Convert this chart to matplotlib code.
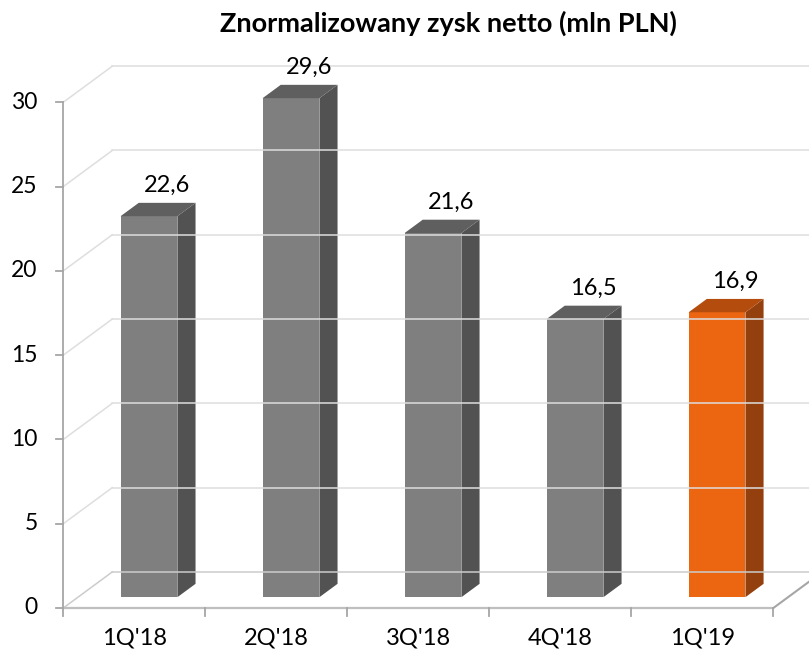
import matplotlib
matplotlib.use("Agg")
import matplotlib.pyplot as plt
from matplotlib.patches import Polygon

# dane
kwartaly = ["1Q'18", "2Q'18", "3Q'18", "4Q'18", "1Q'19"]
zysk = [22.6, 29.6, 21.6, 16.5, 16.9]
etykiety = ["22,6", "29,6", "21,6", "16,5", "16,9"]
podzialka_y = [0, 5, 10, 15, 20, 25, 30]

# kolory slupkow (przod, bok, gora)
kol_przod = ["#7f7f7f"] * 4 + ["#ec6612"]
kol_bok = ["#525252"] * 4 + ["#94400e"]
kol_gora = ["#5f5f5f"] * 4 + ["#b34c0d"]

plt.rcParams["font.family"] = ["Lato", "DejaVu Sans"]

fig = plt.figure(figsize=(8.09, 6.56), dpi=100)
ax = fig.add_axes([63.3 / 809, (656 - 608) / 656, (809 - 63.3) / 809, (608 - 50) / 656])
ax.set_xlim(-0.5, 4.751)
ax.set_ylim(0, 33.1)
ax.axis("off")

DX = 0.345  # przesuniecie glebi w kategoriach
DY = 2.14   # przesuniecie glebi w jednostkach osi y
d0, d1 = 0.3, 0.67  # glebokosc slupka
szer = 0.4

# siatka na tylnej scianie + skosy po lewej
for v in podzialka_y:
    kol = "#dedede" if v > 0 else "#cccccc"
    ax.plot([-0.5, -0.5 + DX], [v, v + DY], color=kol, lw=1.1, clip_on=False)
    ax.plot([-0.5 + DX, 4.751], [v + DY, v + DY], color=kol, lw=1.1, clip_on=False)

# podloga
ax.plot([-0.5, 4.5], [0, 0], color="#bfbfbf", lw=1.6, clip_on=False)
ax.plot([4.5, 4.5 + DX], [0, DY], color="#a6a6a6", lw=1.5, clip_on=False)

# os y
ax.plot([-0.5, -0.5], [0, 30], color="#a6a6a6", lw=1.3, clip_on=False)
for v in podzialka_y:
    ax.plot([-0.55, -0.5], [v, v], color="#a6a6a6", lw=1.3, clip_on=False)
    ax.text(-0.68, v, str(v), ha="right", va="center", fontsize=16.5)

# podzialka osi x
for i in range(len(kwartaly) + 1):
    ax.plot([i - 0.5, i - 0.5], [0, -0.5], color="#a6a6a6", lw=1.3, clip_on=False)
for i, k in enumerate(kwartaly):
    ax.text(i, -1.75, k, ha="center", va="center", fontsize=17)

# slupki 3d
for i, v in enumerate(zysk):
    x0 = i - szer / 2 + d0 * DX
    x1 = i + szer / 2 + d0 * DX
    y0 = d0 * DY
    ddx = (d1 - d0) * DX
    ddy = (d1 - d0) * DY
    ax.add_patch(Polygon([(x0, y0), (x1, y0), (x1, y0 + v), (x0, y0 + v)],
                         closed=True, fc=kol_przod[i], ec="none"))
    ax.add_patch(Polygon([(x1, y0), (x1 + ddx, y0 + ddy), (x1 + ddx, y0 + v + ddy), (x1, y0 + v)],
                         closed=True, fc=kol_bok[i], ec="none"))
    ax.add_patch(Polygon([(x0, y0 + v), (x1, y0 + v), (x1 + ddx, y0 + v + ddy), (x0 + ddx, y0 + v + ddy)],
                         closed=True, fc=kol_gora[i], ec="none"))
    ax.text((x0 + x1) / 2 + ddx, y0 + v + ddy + 0.4, etykiety[i],
            ha="center", va="bottom", fontsize=17)

fig.text(448 / 809, 1 - 23 / 656, "Znormalizowany zysk netto (mln PLN)",
         ha="center", va="center", fontsize=19.5, fontweight="bold")

fig.savefig("out.png", dpi=100)
